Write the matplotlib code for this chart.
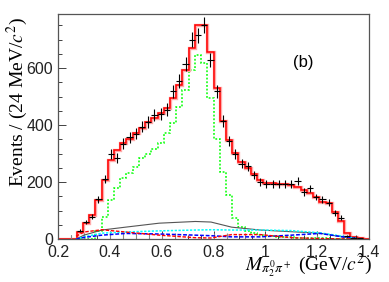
import numpy as np
import matplotlib
matplotlib.use("Agg")
import matplotlib.pyplot as plt
from matplotlib.ticker import MultipleLocator

plt.rcParams['mathtext.fontset'] = 'stix'

# 24 MeV bins from 0.2 to 1.4 GeV
bin_edges = np.round(np.arange(0.2, 1.4001, 0.024), 3)

# total fit (red histogram)
fit_total = [0, 0, 0, 26, 56, 84, 137, 207, 277, 312,
             336, 352, 372, 390, 410, 425, 442, 460, 495, 540,
             593, 672, 750, 750, 656, 530, 415, 348, 302, 272,
             250, 228, 206, 198, 196, 195, 193, 190, 184, 174,
             161, 147, 130, 128, 96, 62, 21, 7, 5, 0]

# signal component (green dotted histogram)
signal = [0, 0, 0, 0, 0, 0, 30, 77, 137, 179,
          214, 231, 253, 284, 300, 318, 337, 372, 407, 463,
          523, 593, 646, 617, 494, 350, 235, 154, 74, 42,
          30, 22, 16, 12, 10, 8, 7, 6, 5, 5,
          4, 4, 3, 3, 2, 2, 1, 1, 0, 0]

# data points (one per bin, where filled)
data_vals = [0, 0, 0, 30, 60, 78, 140, 210, 300, 284,
             335, 357, 370, 395, 412, 437, 440, 455, 520, 555,
             615, 700, 716, 751, 630, 520, 415, 345, 300, 265,
             255, 225, 200, 195, 195, 193, 193, 195, 205, 165,
             178, 148, 140, 128, 92, 75, 12, 5, 3, 0]

# smooth background curves
bkg_x = [0.27, 0.30, 0.37, 0.46, 0.59, 0.73, 0.79, 0.87, 0.98, 1.10, 1.21, 1.30, 1.37]
bkg_gray = [0, 14, 32, 42, 56, 62, 60, 42, 32, 26, 21, 7, 0]
bkg_cyan = [0, 8, 21, 25, 29, 32, 33, 32, 32, 30, 22, 10, 0]
bkg_blue = [0, 6, 14, 20, 18, 14, 12, 8, 8, 14, 20, 8, 0]
bkg_red = [10, 25, 33, 25, 14, 5, 4, 16, 16, 5, 2, 1, 0]

# low statistics points near zero
low_x = [0.25, 0.30, 0.40, 0.45, 0.50, 0.55, 0.60, 0.65, 0.80, 0.85, 0.92, 1.00, 1.10, 1.20, 1.30]
low_y = [6, 8, 8, 9, 9, 8, 8, 9, 9, 8, 8, 7, 6, 6, 4]
low_err = [10, 12, 12, 12, 12, 12, 12, 12, 12, 12, 12, 12, 10, 10, 8]

centers = 0.5 * (bin_edges[:-1] + bin_edges[1:])

fig = plt.figure(figsize=(3.89, 2.82), dpi=100)
ax = fig.add_axes([0.149, 0.152, 0.800, 0.798])

ax.errorbar(low_x, low_y, yerr=low_err, fmt='none', ecolor='#888888', elinewidth=0.8)

ax.plot(bkg_x, bkg_gray, color='#555555', lw=0.8)
ax.plot(bkg_x, bkg_cyan, color='#00ffff', lw=1.1, ls=(0, (1.5, 1.0)))
ax.plot(bkg_x, bkg_blue, color='#0000ff', lw=1.1, ls=(0, (2.5, 1.2)))
ax.plot(bkg_x, bkg_red, color='#ff0000', lw=1.0, ls=(0, (2.5, 1.2)))

ax.stairs(signal, bin_edges, color='#00ff00', lw=1.1, ls=(0, (1.2, 1.2)))
ax.stairs(fit_total, bin_edges, color='#ffaaaa', lw=2.4)
ax.stairs(fit_total, bin_edges, color='#ff0000', lw=1.1)

mask = np.array(data_vals) > 0
dv = np.array(data_vals)[mask]
ax.errorbar(centers[mask], dv, xerr=0.012, yerr=np.sqrt(dv), fmt='none',
            ecolor='black', elinewidth=0.8)

ax.set_xlim(0.2, 1.4)
ax.set_ylim(0, 790)
ax.xaxis.set_minor_locator(MultipleLocator(0.05))
ax.yaxis.set_minor_locator(MultipleLocator(50))
ax.tick_params(which='both', direction='in', top=False, right=False,
               labelsize=11.5, colors='#222222')
ax.tick_params(which='major', length=6, width=0.6)
ax.tick_params(which='minor', length=3, width=0.6)
ax.tick_params(axis='x', pad=4)
ax.set_xticks([0.2, 0.4, 0.6, 0.8, 1.0, 1.2, 1.4])
ax.set_xticklabels(['0.2', '0.4', '0.6', '0.8', '1', '1.2', '1.4'],
                   family='Liberation Sans')
ax.set_yticks([0, 200, 400, 600])
ax.set_yticklabels(['0', '200', '400', '600'], family='Liberation Sans')
for s in ax.spines.values():
    s.set_linewidth(0.9)
    s.set_color('#555555')

fig.text(0.045, 0.94, r'Events / (24 MeV/$c^2$)', rotation=90, ha='center',
         va='top', fontsize=14, family='Liberation Serif')
fig.text(0.958, 0.008, r'$M_{\pi^0_2\pi^+}$ (GeV/$c^2$)', ha='right',
         va='bottom', fontsize=14, family='Liberation Serif')
ax.text(1.145, 620, '(b)', fontsize=12, family='Liberation Sans', ha='center', va='center')

fig.savefig('out.png', dpi=100)
